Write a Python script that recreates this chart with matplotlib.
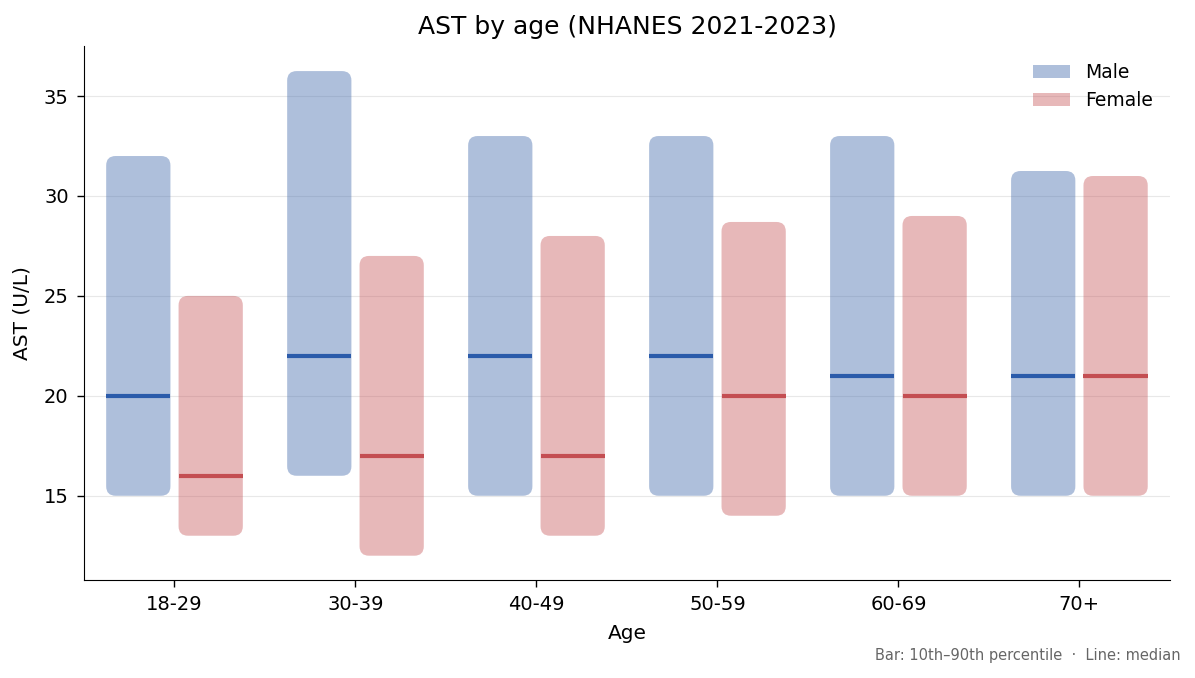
import matplotlib
matplotlib.use("Agg")
import matplotlib.pyplot as plt
from matplotlib.patches import FancyBboxPatch, Patch
import numpy as np

# AST percentiles by age group (U/L)
age_groups = ["18-29", "30-39", "40-49", "50-59", "60-69", "70+"]
male_p10 = [15, 16, 15, 15, 15, 15]
male_p90 = [32, 36.25, 33, 33, 33, 31.25]
male_median = [20, 22, 22, 22, 21, 21]
female_p10 = [13, 12, 13, 14, 15, 15]
female_p90 = [25, 27, 28, 28.7, 29, 31]
female_median = [16, 17, 17, 20, 20, 21]

male_fill = "#4C72B0"
female_fill = "#C44E52"
male_line = "#2B5BAA"
female_line = "#C44E52"

fig, ax = plt.subplots(figsize=(11.95, 6.78), dpi=100)
fig.subplots_adjust(left=0.0703, right=0.979, top=0.932, bottom=0.145)

x = np.arange(len(age_groups))
offset = 0.2
width = 0.355
r = 0.052
aspect = 0.47 / r

def draw_bars(xs, lo, hi, med, fill, alpha, line):
    for xi, l, h, m in zip(xs, lo, hi, med):
        box = FancyBboxPatch((xi - width / 2, l), width, h - l,
                             boxstyle=f"round,pad=0,rounding_size={r}",
                             mutation_aspect=aspect,
                             facecolor=fill, edgecolor="none", alpha=alpha, zorder=2)
        ax.add_patch(box)
        ax.plot([xi - width / 2, xi + width / 2], [m, m], color=line, lw=3,
                solid_capstyle="butt", zorder=3)

draw_bars(x - offset, male_p10, male_p90, male_median, male_fill, 0.45, male_line)
draw_bars(x + offset, female_p10, female_p90, female_median, female_fill, 0.4, female_line)

ax.set_xlim(-0.5, 5.5)
ax.set_ylim(10.8, 37.5)
ax.set_xticks(x)
ax.set_xticklabels(age_groups)
ax.set_yticks([15, 20, 25, 30, 35])
ax.tick_params(labelsize=14, length=5, width=1, pad=6)
ax.grid(axis="y", color="#e8e8e8", lw=0.8, zorder=0)
ax.set_axisbelow(True)
for s in ["top", "right"]:
    ax.spines[s].set_visible(False)

ax.set_xlabel("Age", fontsize=14.5, labelpad=7)
ax.set_ylabel("AST (U/L)", fontsize=14.5, labelpad=9)
ax.set_title("AST by age (NHANES 2021-2023)", fontsize=18, pad=9)

handles = [Patch(facecolor=male_fill, alpha=0.45, label="Male"),
           Patch(facecolor=female_fill, alpha=0.4, label="Female")]
ax.legend(handles=handles, loc="upper right", frameon=False, fontsize=13.5)

fig.text(0.988, 0.022, "Bar: 10th\u201390th percentile  \u00b7  Line: median",
         ha="right", va="bottom", fontsize=10.5, color="#666666")

fig.savefig("out.png", dpi=100)
